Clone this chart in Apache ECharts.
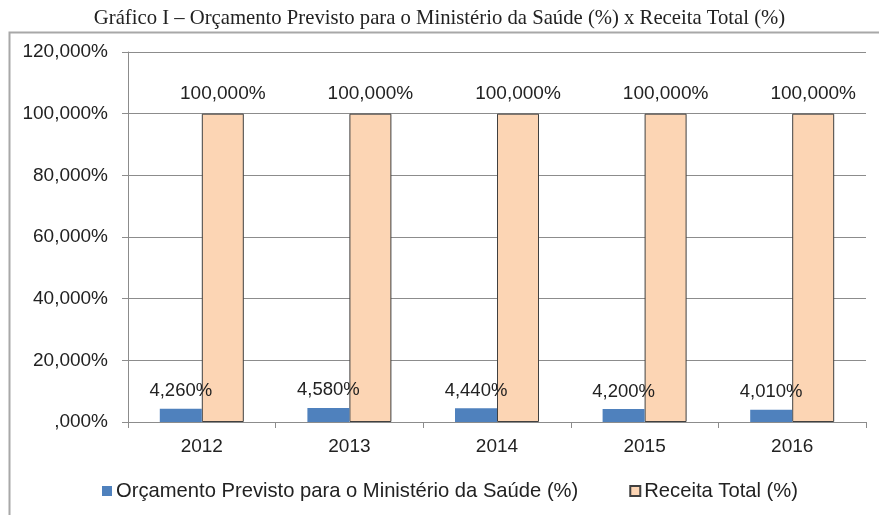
<!DOCTYPE html>
<html>
<head>
<meta charset="utf-8">
<script src="https://cdn.jsdelivr.net/npm/echarts@6/dist/echarts.min.js"></script>
<style>
  html, body { margin: 0; padding: 0; background: #fff; }
  #chart { width: 879px; height: 515px; }
</style>
</head>
<body>
<div id="chart"></div>
<script>
// 数据：年份 + 两组百分比
const years = ['2012', '2013', '2014', '2015', '2016'];
const saude = [4.26, 4.58, 4.44, 4.2, 4.01];
const receita = [100, 100, 100, 100, 100];
const yTicks = [0, 20, 40, 60, 80, 100, 120];

// Excel 风格：逗号小数，三位
const pct = (v) => (v === 0 ? ',000%' : v.toFixed(3).replace('.', ',') + '%');

const chart = echarts.init(document.getElementById('chart'));
const sans = 'Liberation Sans, Arial, sans-serif';

chart.setOption({
  animation: false,
  title: {
    text: 'Gráfico I – Orçamento Previsto para o Ministério da Saúde (%) x Receita Total (%)',
    left: 'center', top: 3,
    textStyle: { fontFamily: 'Liberation Serif, Times New Roman, serif', fontSize: 20.7, fontWeight: 'normal', color: '#222' },
  },
  graphic: [{
    type: 'rect', left: 7, top: 30,
    shape: { width: 880, height: 500 },
    style: { fill: 'none', stroke: '#a8a8a8', lineWidth: 2 },
  }],
  grid: { left: 128, right: 13, top: 52, bottom: 93 },
  legend: {
    top: 476, left: 97, itemGap: 51,
    itemWidth: 10, itemHeight: 10, icon: 'rect',
    textStyle: { fontFamily: sans, fontSize: 20.2, color: '#222', padding: [0, 0, 0, -1] },
  },
  xAxis: {
    type: 'category', data: years,
    axisLine: { lineStyle: { color: '#8c8c8c' } },
    axisTick: { show: true, length: 6, lineStyle: { color: '#8c8c8c' } },
    axisLabel: { fontFamily: sans, fontSize: 19, color: '#222', margin: 15 },
  },
  yAxis: {
    type: 'value', min: yTicks[0], max: yTicks[yTicks.length - 1], interval: 20,
    axisLine: { show: true, lineStyle: { color: '#8c8c8c' } },
    axisTick: { show: true, length: 6, lineStyle: { color: '#8c8c8c' } },
    splitLine: { lineStyle: { color: '#8c8c8c' } },
    axisLabel: { fontFamily: sans, fontSize: 19, color: '#222', margin: 20, formatter: pct },
  },
  series: [
    {
      name: 'Orçamento Previsto para o Ministério da Saúde (%)', type: 'bar',
      data: saude, barWidth: 42, barGap: '0%',
      itemStyle: { color: '#4f81bd' },
      label: { show: true, position: 'top', distance: 8, formatter: (p) => pct(p.value), fontFamily: sans, fontSize: 18.5, color: '#222' },
      z: 3,
    },
    {
      name: 'Receita Total (%)', type: 'bar',
      data: receita, barWidth: 42,
      itemStyle: { color: '#fcd5b4', borderColor: '#404040', borderWidth: 1 },
      label: { show: true, position: 'top', distance: 10, formatter: (p) => pct(p.value), fontFamily: sans, fontSize: 19, color: '#222' },
      z: 2,
    },
  ],
});
</script>
</body>
</html>
